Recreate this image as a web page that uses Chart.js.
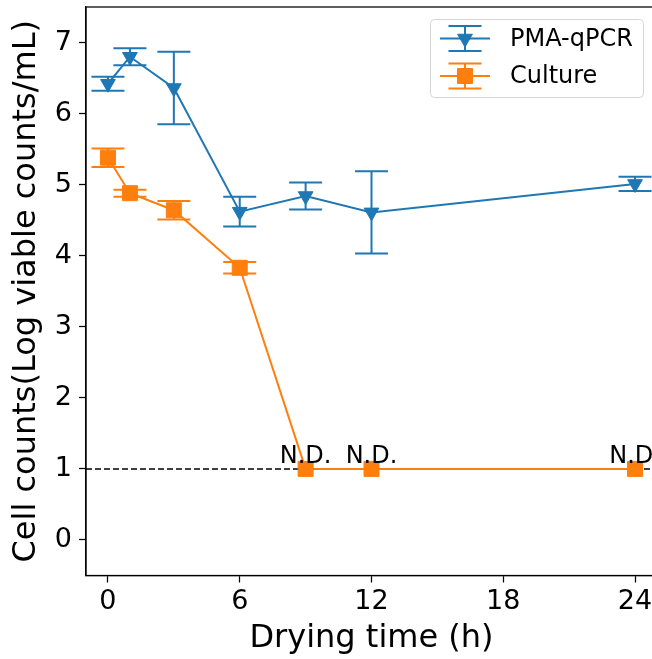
<!DOCTYPE html>
<html>
<head>
<meta charset="utf-8">
<script src="https://cdn.jsdelivr.net/npm/chart.js@4"></script>
<style>
    html, body { margin: 0; padding: 0; overflow: hidden; background: #fff; }
    #moldura { width: 652px; height: 659px; overflow: hidden; }
    #grafico { display: block; }
</style>
</head>
<body>
<div id="moldura"><canvas id="grafico" width="680" height="659"></canvas></div>
<script>
// dados
const horas = [0, 1, 3, 6, 9, 12, 24];
const pmaMedia = [6.42, 6.80, 6.36, 4.62, 4.84, 4.61, 5.01];
const pmaErro = [0.10, 0.12, 0.51, 0.21, 0.19, 0.58, 0.10];
const culturaMedia = [5.38, 4.88, 4.64, 3.83, 1.0, 1.0, 1.0];
const culturaErro = [0.13, 0.05, 0.13, 0.08, null, null, null];
const culturaND = [false, false, false, false, true, true, true];
const limiteDeteccao = 1;
const ticksX = [0, 6, 12, 18, 24];
const ticksY = [0, 1, 2, 3, 4, 5, 6, 7];
const nomesSeries = ['PMA-qPCR', 'Culture'];

const AZUL = '#1f77b4';
const LARANJA = '#ff7f0e';
const FONTE = "'DejaVu Sans', sans-serif";

function pontos(ys) {
    return horas.map((h, i) => ({ x: h, y: ys[i] }));
}

// barras de erro desenhadas com as escalas do chart
const barrasErro = {
    id: 'barrasErro',
    beforeDatasetsDraw(chart) {
        const ctx = chart.ctx;
        const xs = chart.scales.x, ys = chart.scales.y;
        const series = [[pmaMedia, pmaErro, AZUL], [culturaMedia, culturaErro, LARANJA]];
        ctx.save();
        ctx.lineWidth = 2;
        series.forEach(([medias, erros, cor]) => {
            ctx.strokeStyle = cor;
            horas.forEach((h, i) => {
                if (erros[i] == null) return;
                const x = xs.getPixelForValue(h);
                const yTop = ys.getPixelForValue(medias[i] + erros[i]);
                const yBot = ys.getPixelForValue(medias[i] - erros[i]);
                ctx.beginPath();
                ctx.moveTo(x, yTop); ctx.lineTo(x, yBot);
                ctx.moveTo(x - 16.5, yTop); ctx.lineTo(x + 16.5, yTop);
                ctx.moveTo(x - 16.5, yBot); ctx.lineTo(x + 16.5, yBot);
                ctx.stroke();
            });
        });
        ctx.restore();
    }
};

// textos N.D., moldura e legenda
const extras = {
    id: 'extras',
    afterDatasetsDraw(chart) {
        const ctx = chart.ctx;
        const meta = chart.getDatasetMeta(1);
        ctx.save();
        ctx.fillStyle = '#000';
        ctx.font = '24px ' + FONTE;
        ctx.textAlign = 'center';
        ctx.textBaseline = 'alphabetic';
        culturaND.forEach((nd, i) => {
            if (!nd) return;
            const p = meta.data[i];
            ctx.fillText('N.D.', p.x, p.y - 6);
        });
        ctx.restore();
    },
    afterDraw(chart) {
        const ctx = chart.ctx;
        const a = chart.chartArea;
        ctx.save();
        ctx.strokeStyle = '#000';
        ctx.lineWidth = 1.25;
        ctx.strokeRect(a.left, a.top, a.right - a.left, a.bottom - a.top);

        // legenda
        const bx = 430.5, by = 19.5, bw = 213, bh = 78;
        ctx.beginPath();
        ctx.roundRect(bx, by, bw, bh, 4);
        ctx.fillStyle = 'rgba(255,255,255,0.8)';
        ctx.fill();
        ctx.strokeStyle = '#d6d6d6';
        ctx.lineWidth = 1;
        ctx.stroke();

        const linhas = [[38.5, AZUL, 'triangle'], [76, LARANJA, 'rect']];
        linhas.forEach(([y, cor, estilo], k) => {
            const cx = 465;
            ctx.strokeStyle = cor;
            ctx.lineWidth = 2;
            ctx.beginPath();
            ctx.moveTo(440, y); ctx.lineTo(490, y);
            ctx.moveTo(cx, y - 12.5); ctx.lineTo(cx, y + 12.5);
            ctx.moveTo(cx - 16.5, y - 12.5); ctx.lineTo(cx + 16.5, y - 12.5);
            ctx.moveTo(cx - 16.5, y + 12.5); ctx.lineTo(cx + 16.5, y + 12.5);
            ctx.stroke();
            ctx.fillStyle = cor;
            ctx.lineWidth = 1;
            Chart.helpers.drawPoint(ctx, {
                pointStyle: estilo,
                radius: estilo === 'triangle' ? 8.5 : 10.6,
                rotation: estilo === 'triangle' ? 180 : 0,
                borderWidth: 1
            }, cx, y);
            ctx.fillStyle = '#000';
            ctx.font = '24px ' + FONTE;
            ctx.textAlign = 'left';
            ctx.textBaseline = 'middle';
            ctx.fillText(nomesSeries[k], 510, y + 1);
        });
        ctx.restore();
    }
};

const ctx = document.getElementById('grafico').getContext('2d');
new Chart(ctx, {
    type: 'line',
    data: {
        datasets: [
            {
                label: nomesSeries[0],
                data: pontos(pmaMedia),
                borderColor: AZUL,
                backgroundColor: AZUL,
                borderWidth: 2,
                pointStyle: 'triangle',
                rotation: 180,
                pointRadius: 8.5,
                pointBorderWidth: 1,
                order: 0
            },
            {
                label: nomesSeries[1],
                data: pontos(culturaMedia),
                borderColor: LARANJA,
                backgroundColor: LARANJA,
                borderWidth: 2,
                pointStyle: 'rect',
                pointRadius: 10.6,
                pointBorderWidth: 1,
                order: 1
            },
            {
                label: 'limite',
                data: [{ x: -1, y: limiteDeteccao }, { x: 25, y: limiteDeteccao }],
                borderColor: '#000',
                borderWidth: 1.5,
                borderDash: [6, 3],
                pointRadius: 0,
                order: 5
            }
        ]
    },
    options: {
        responsive: false,
        animation: false,
        devicePixelRatio: 1,
        layout: { autoPadding: false, padding: { top: 7, right: 23, left: 0, bottom: 0 } },
        plugins: {
            legend: { display: false },
            tooltip: { enabled: false }
        },
        scales: {
            x: {
                type: 'linear',
                min: -1,
                max: 25,
                afterFit(s) { s.height = 83.5; s.paddingLeft = 0; s.paddingRight = 0; },
                afterBuildTicks(s) { s.ticks = ticksX.map(v => ({ value: v })); },
                ticks: { color: '#000', font: { family: FONTE, size: 27 }, padding: 3, maxRotation: 0 },
                grid: { drawOnChartArea: false, drawTicks: true, tickLength: 7, tickWidth: 1.25, tickColor: '#000' },
                border: { display: true, color: '#000', width: 1.25 },
                title: { display: true, text: 'Drying time (h)', color: '#000', font: { family: FONTE, size: 32, lineHeight: 1 }, padding: { top: 0, bottom: 4 } }
            },
            y: {
                type: 'linear',
                min: -0.5,
                max: 7.5,
                afterFit(s) { s.width = 86; s.paddingTop = 0; s.paddingBottom = 0; },
                afterBuildTicks(s) { s.ticks = ticksY.map(v => ({ value: v })); },
                ticks: { color: '#000', font: { family: FONTE, size: 27 }, padding: 7 },
                grid: { drawOnChartArea: false, drawTicks: true, tickLength: 7, tickWidth: 1.25, tickColor: '#000' },
                border: { display: true, color: '#000', width: 1.25 },
                title: { display: true, text: 'Cell counts(Log viable counts/mL)', color: '#000', font: { family: FONTE, size: 32, lineHeight: 1 }, padding: { top: 10.5, bottom: 0 } }
            }
        }
    },
    plugins: [barrasErro, extras]
});
</script>
</body>
</html>
